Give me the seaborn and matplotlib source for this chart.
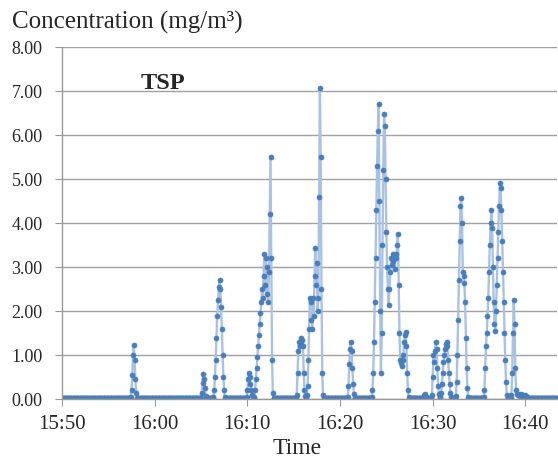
import pandas as pd
import matplotlib
matplotlib.use("Agg")
import matplotlib.pyplot as plt
import matplotlib.dates as mdates
import seaborn as sns

# one reading every 5 s between 15:50 and 16:43:25, flat baseline between bursts
day = "2019-01-01 "
t_start = "15:50:00"
t_end = "16:43:25"
baseline = 0.02

# bursts: start time + readings (mg/m3), 5 s apart
peak_1557 = [0.05, 0.2, 0.55, 1.0, 1.23, 0.9, 0.45, 0.15, 0.03]
peak_1605 = [0.04, 0.15, 0.38, 0.57, 0.45, 0.25, 0.08, 0.03]
peak_1606 = [0.05, 0.2, 0.5, 0.9, 1.4, 1.9, 2.25, 2.55, 2.71, 2.5, 2.1, 1.6,
             1.0, 0.5, 0.2, 0.05]
peak_1610 = [0.05, 0.2, 0.45, 0.59, 0.5, 0.35, 0.2, 0.1, 0.05, 0.03, 0.05,
             0.2, 0.45, 0.7, 0.95, 1.2, 1.45, 1.7, 1.95, 2.2, 2.5, 2.3, 2.8,
             3.3, 2.6, 3.2, 2.4, 3.0, 2.2, 2.9, 4.2, 5.51, 3.2, 0.9, 0.15, 0.03]
peak_1615 = [0.03, 0.1, 0.6, 1.1, 1.3, 1.2, 1.39, 1.25, 1.35, 1.2, 0.6, 0.2,
             0.08, 0.06, 0.1, 0.3, 0.9, 1.6, 2.3, 1.8, 2.2, 1.6, 2.3, 1.9,
             2.8, 3.43, 2.6, 3.1, 2.0, 2.3, 4.6, 7.07, 5.5, 2.5, 0.6, 0.1, 0.03]
peak_1620 = [0.05, 0.3, 0.8, 1.15, 1.31, 1.1, 0.7, 0.35, 0.12, 0.04]
peak_1623 = [0.03, 0.05, 0.2, 0.6, 1.3, 2.2, 3.2, 4.3, 5.3, 6.1, 6.71, 4.5,
             2.0, 0.59, 1.5, 3.5, 5.2, 6.48, 6.2, 5.0, 3.8, 3.0, 2.5, 2.14,
             2.5, 2.9, 3.2, 3.05, 3.3, 3.15, 3.25, 2.95, 3.3, 3.2, 3.5, 3.76,
             2.6, 1.5, 0.9, 0.82, 0.75, 0.9, 1.0, 1.3, 1.45, 1.52, 1.2, 0.6,
             0.2, 0.06, 0.03]
noise_1629 = [0.03, 0.1, 0.12, 0.05]
peak_1629 = [0.03, 0.1, 0.5, 1.0, 0.85, 1.1, 1.31, 1.15, 0.7, 0.3, 0.12, 0.05,
             0.04, 0.15, 0.35, 0.6, 0.85, 1.0, 1.15, 1.25, 1.31, 1.2, 0.9,
             0.6, 0.35, 0.15, 0.06, 0.03]
peak_1632 = [0.03, 0.08, 0.4, 1.0, 1.8, 2.7, 3.6, 4.4, 4.57, 4.0, 2.9, 2.8,
             2.65, 2.2, 1.4, 0.7, 0.25, 0.06, 0.03]
peak_1635 = [0.03, 0.05, 0.2, 0.7, 1.2, 1.5, 1.9, 2.3, 2.9, 3.5, 4.0, 4.3,
             3.9, 3.0, 2.2, 1.7, 1.54, 2.0, 2.6, 3.2, 3.8, 4.4, 4.91, 4.8,
             4.3, 3.6, 2.9, 2.2, 1.5, 0.9, 0.4, 0.1, 0.03]
peak_1638 = [0.03, 0.1, 0.6, 1.5, 2.26, 1.7, 0.7, 0.2, 0.12, 0.1, 0.13, 0.1,
             0.08, 0.12, 0.1, 0.08, 0.1, 0.07, 0.09, 0.06, 0.08, 0.05, 0.04, 0.03]

bursts = [("15:57:25", peak_1557), ("16:05:00", peak_1605),
          ("16:06:20", peak_1606), ("16:09:55", peak_1610),
          ("16:15:15", peak_1615), ("16:20:50", peak_1620),
          ("16:23:20", peak_1623), ("16:29:00", noise_1629),
          ("16:29:50", peak_1629), ("16:32:25", peak_1632),
          ("16:35:25", peak_1635), ("16:38:25", peak_1638)]

#%%
times = pd.date_range(day + t_start, day + t_end, freq="5s")
conc = pd.Series(baseline, index=times)
for st, vals in bursts:
    idx = pd.date_range(day + st, periods=len(vals), freq="5s")
    conc.loc[idx] = vals
df = pd.DataFrame({"time": conc.index, "conc": conc.values})

#%%
sns.set_style("white")
plt.rcParams["font.family"] = ["Liberation Serif", "DejaVu Serif"]

fig = plt.figure(figsize=(5.58, 4.62), dpi=100)
ax = fig.add_axes([62 / 558, 1 - 399.3 / 462, (557 - 62) / 558, 352.3 / 462])

sns.lineplot(data=df, x="time", y="conc", ax=ax, color="#a9c2e4",
             linewidth=1.7, marker="o", markersize=3.6,
             markerfacecolor="#4a7ebb", markeredgecolor="#4a7ebb",
             markeredgewidth=0.5, errorbar=None, sort=False)

ax.set_xlim(pd.Timestamp(day + t_start), pd.Timestamp(day + t_end))
ax.set_ylim(0, 8)
ax.set_yticks(range(0, 9))
ax.yaxis.set_major_formatter(matplotlib.ticker.FormatStrFormatter("%.2f"))
ax.xaxis.set_major_locator(mdates.MinuteLocator(byminute=range(0, 60, 10)))
ax.xaxis.set_major_formatter(mdates.DateFormatter("%H:%M"))

ax.grid(axis="y", color="#a0a0a0", linewidth=1)
ax.set_axisbelow(True)
for s in ["top", "right"]:
    ax.spines[s].set_visible(False)
for s in ["left", "bottom"]:
    ax.spines[s].set_color("#999999")
    ax.spines[s].set_linewidth(1)
ax.tick_params(axis="y", length=5, color="#999999", labelsize=13, pad=9,
               left=True)
ax.tick_params(axis="x", length=5, color="#999999", labelsize=15, pad=6,
               bottom=True)
ax.set_xlabel("")
ax.set_ylabel("")

fig.text(12 / 558, 1 - 22 / 462, "Concentration (mg/m³)", fontsize=18,
         ha="left", va="center")
ax.text(0.204, 0.896, "TSP", transform=ax.transAxes, fontsize=17.5,
        fontweight="bold", ha="center", va="center")
fig.text(297 / 558, 1 - 449 / 462, "Time", fontsize=17, ha="center",
         va="center")

fig.savefig("out.png", dpi=100)
